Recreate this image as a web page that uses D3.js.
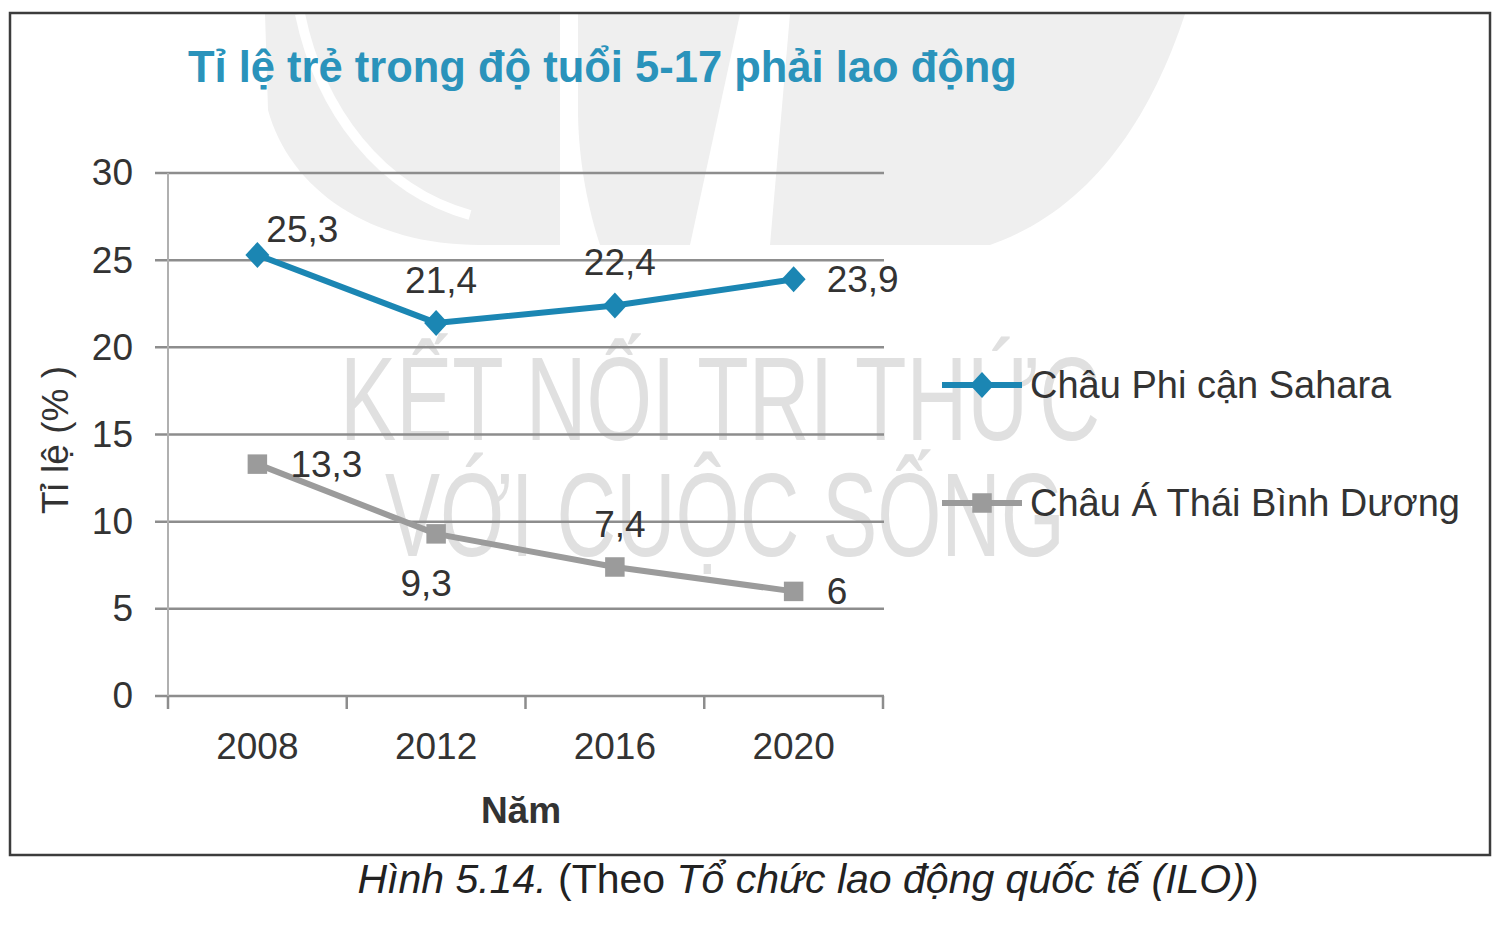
<!DOCTYPE html>
<html>
<head>
<meta charset="utf-8">
<script src="https://cdn.jsdelivr.net/npm/d3@7"></script>
<style>
  html, body { margin: 0; padding: 0; background: #fff; }
  svg { display: block; font-family: "Liberation Sans", Arial, sans-serif; }
</style>
</head>
<body>
<div id="chart"></div>
<script>
const years = ["2008", "2012", "2016", "2020"];
const africa = [25.3, 21.4, 22.4, 23.9];
const asiaPacific = [13.3, 9.3, 7.4, 6];
const yTicks = [0, 5, 10, 15, 20, 25, 30];
const seriesNames = ["Châu Phi cận Sahara", "Châu Á Thái Bình Dương"];

const width = 1495, height = 930;
const blue = "#1b86b3", grey = "#9b9b9b", textColor = "#333";

const svg = d3.select("#chart").append("svg")
  .attr("width", width).attr("height", height);

// faint publisher watermark
const wm = svg.append("g").attr("fill", "#efefef");
wm.append("path").attr("d", "M265,14 H560 V245 H480 C370,245 290,190 268,110 Z");
wm.append("path").attr("d", "M300,14 C320,110 380,190 470,215").attr("fill", "none")
  .attr("stroke", "#fff").attr("stroke-width", 10);
wm.append("path").attr("d", "M578,14 H740 L690,245 H600 C585,200 578,150 578,110 Z");
wm.append("path").attr("d", "M790,14 H1185 C1150,120 1090,210 990,245 H770 Z");
const wmText = svg.append("g").attr("fill", "#e0e0e0").attr("font-size", 118);
wmText.append("text").attr("x", 340).attr("y", 440)
  .attr("textLength", 760).attr("lengthAdjust", "spacingAndGlyphs")
  .text("KẾT NỐI TRI THỨC");
wmText.append("text").attr("x", 385).attr("y", 556)
  .attr("textLength", 680).attr("lengthAdjust", "spacingAndGlyphs")
  .text("VỚI CUỘC SỐNG");

// frame
svg.append("rect").attr("x", 10).attr("y", 13).attr("width", 1480).attr("height", 842)
  .attr("fill", "none").attr("stroke", "#3c3c3c").attr("stroke-width", 2.5);

svg.append("text").attr("x", 188).attr("y", 82)
  .attr("fill", "#2a93bb").attr("font-weight", "bold").attr("font-size", 43.5)
  .text("Tỉ lệ trẻ trong độ tuổi 5-17 phải lao động");

const x = d3.scaleBand().domain(years).range([168, 883]);
const y = d3.scaleLinear().domain([0, 30]).range([696, 173]);

// grid
svg.append("g").selectAll("line").data(yTicks).join("line")
  .attr("x1", 155).attr("x2", 884)
  .attr("y1", d => y(d)).attr("y2", d => y(d))
  .attr("stroke", "#8d8d8d").attr("stroke-width", 2.5);

svg.append("line").attr("x1", 168).attr("x2", 168).attr("y1", y(30)).attr("y2", 708)
  .attr("stroke", "#b0b0b0").attr("stroke-width", 2);

const yAxis = svg.append("g").attr("transform", "translate(155,0)")
  .call(d3.axisLeft(y).tickValues(yTicks).tickSize(0).tickPadding(22));
yAxis.select(".domain").remove();
yAxis.selectAll("text").attr("font-size", 37).attr("fill", textColor)
  .attr("font-family", "Liberation Sans, Arial, sans-serif");

const xAxis = svg.append("g").attr("transform", `translate(0,${y(0)})`)
  .call(d3.axisBottom(x).tickSize(0).tickPadding(37));
xAxis.select(".domain").remove();
xAxis.selectAll("text").attr("font-size", 37).attr("fill", textColor)
  .attr("font-family", "Liberation Sans, Arial, sans-serif");

// category boundary ticks
const bounds = years.map(d => x(d)).concat([x.range()[1]]);
svg.append("g").selectAll("line").data(bounds).join("line")
  .attr("x1", d => d).attr("x2", d => d)
  .attr("y1", y(0)).attr("y2", y(0) + 13)
  .attr("stroke", "#8d8d8d").attr("stroke-width", 2.5);

svg.append("text").attr("x", 521).attr("y", 823).attr("text-anchor", "middle")
  .attr("font-weight", "bold").attr("font-size", 37).attr("fill", textColor)
  .text("Năm");

svg.append("text").attr("transform", "translate(68,440) rotate(-90)")
  .attr("text-anchor", "middle").attr("font-size", 37).attr("fill", textColor)
  .text("Tỉ lệ (% )");

const cx = d => x(d) + x.bandwidth() / 2;
const line = d3.line().x(d => cx(d.year)).y(d => y(d.value));

const diamond = () => "M0,-13 L12,0 L0,13 L-12,0 Z";
const square = d3.symbol().type(d3.symbolSquare).size(380);

const series = [
  { name: seriesNames[0], values: africa, color: blue, symbol: diamond,
    labelAt: ["right-above", "above", "above", "right"] },
  { name: seriesNames[1], values: asiaPacific, color: grey, symbol: square,
    labelAt: ["right", "below", "above", "right"] }
];

const offsets = {
  "right-above": [45, -13, "middle"],
  "right": [33, 13, "start"],
  "above": [5, -30, "middle"],
  "below": [-10, 62, "middle"]
};

series.forEach(s => {
  const pts = years.map((yr, i) => ({ year: yr, value: s.values[i], pos: s.labelAt[i] }));
  svg.append("path").datum(pts).attr("d", line)
    .attr("fill", "none").attr("stroke", s.color).attr("stroke-width", 6)
    .attr("stroke-linejoin", "round");
  svg.append("g").selectAll("path").data(pts).join("path")
    .attr("d", s.symbol)
    .attr("transform", d => `translate(${cx(d.year)},${y(d.value)})`)
    .attr("fill", s.color);
  svg.append("g").selectAll("text").data(pts).join("text")
    .attr("x", d => cx(d.year) + offsets[d.pos][0])
    .attr("y", d => y(d.value) + offsets[d.pos][1])
    .attr("text-anchor", d => offsets[d.pos][2])
    .attr("font-size", 37).attr("fill", textColor)
    .text(d => String(d.value).replace(".", ","));
});

// legend
const legend = svg.append("g").selectAll("g").data(series).join("g")
  .attr("transform", (d, i) => `translate(942,${385 + i * 118})`);
legend.append("line").attr("x1", 0).attr("x2", 80)
  .attr("stroke", d => d.color).attr("stroke-width", 6);
legend.append("path").attr("d", d => d.symbol()).attr("transform", "translate(40,0)")
  .attr("fill", d => d.color);
legend.append("text").attr("x", 88).attr("y", 13)
  .attr("font-size", 38).attr("fill", textColor).text(d => d.name);

// caption
const cap = svg.append("text").attr("x", 808).attr("y", 893).attr("text-anchor", "middle")
  .attr("font-size", 41).attr("fill", "#222");
cap.append("tspan").attr("font-style", "italic").text("Hình 5.14.");
cap.append("tspan").text(" (Theo ");
cap.append("tspan").attr("font-style", "italic").text("Tổ chức lao động quốc tế (ILO)");
cap.append("tspan").text(")");
</script>
</body>
</html>
